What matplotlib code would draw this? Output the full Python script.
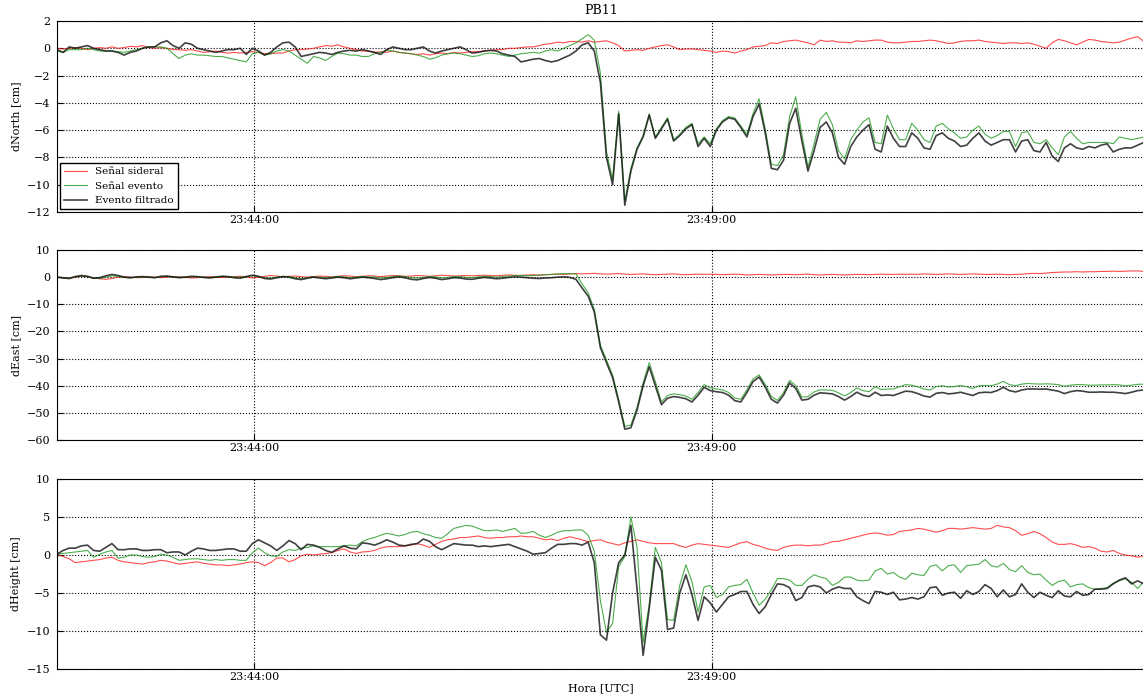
import matplotlib
matplotlib.use("Agg")
import matplotlib.pyplot as plt
import numpy as np
from matplotlib.ticker import FuncFormatter, FixedLocator

# sample grid: 23:41:51 UTC, one value every 4 s
t_start = 23 * 3600 + 41 * 60 + 51
t_step = 4

# dNorth [cm]
N_sid = [0.0, -0.05, 0.0, 0.05, 0.0, -0.1, 0.0, 0.05, 0.0, 0.1,
         0.0, 0.05, 0.15, 0.1, 0.2, 0.05, 0.0, 0.05, 0.0, -0.1,
         -0.1, -0.15, -0.1, -0.2, -0.3, -0.25, -0.2, -0.3, -0.35, -0.3,
         -0.35, -0.3, -0.25, -0.3, -0.4, -0.4, -0.35, -0.35, -0.2, -0.1,
         -0.1, -0.05, 0.0, 0.1, 0.2, 0.15, 0.25, 0.1, 0.0, -0.1,
         -0.2, -0.2, -0.3, -0.25, -0.3, -0.2, -0.3, -0.35, -0.4, -0.45,
         -0.4, -0.5, -0.4, -0.35, -0.4, -0.3, -0.35, -0.3, -0.25, -0.25,
         -0.2, -0.15, -0.1, -0.1, 0.0, 0.0, 0.05, 0.1, 0.1, 0.2,
         0.3, 0.35, 0.45, 0.4, 0.5, 0.5, 0.45, 0.55, 0.45, 0.5,
         0.55, 0.4, 0.2, -0.2, -0.15, -0.1, -0.15, 0.0, 0.1, 0.2,
         0.25, 0.1, -0.1, -0.05, -0.05, -0.1, -0.15, -0.2, -0.3, -0.2,
         -0.25, -0.35, -0.2, -0.1, 0.1, 0.15, 0.2, 0.4, 0.35, 0.5,
         0.55, 0.6, 0.5, 0.4, 0.25, 0.6, 0.5, 0.55, 0.45, 0.45,
         0.4, 0.55, 0.5, 0.55, 0.6, 0.6, 0.45, 0.4, 0.4, 0.45,
         0.5, 0.5, 0.55, 0.6, 0.55, 0.45, 0.35, 0.4, 0.5, 0.55,
         0.55, 0.6, 0.5, 0.45, 0.4, 0.35, 0.4, 0.4, 0.35, 0.4,
         0.3, 0.15, 0.0, 0.4, 0.65, 0.55, 0.4, 0.25, 0.45, 0.65,
         0.6, 0.5, 0.45, 0.4, 0.45, 0.6, 0.75, 0.85, 0.5, 0.35]
N_evt = [-0.2, -0.3, -0.1, -0.1, -0.1, 0.0, -0.1, -0.2, -0.2, -0.2,
         -0.25, -0.3, -0.2, -0.1, 0.0, 0.1, 0.1, 0.1, 0.0, -0.4,
         -0.75, -0.5, -0.4, -0.5, -0.5, -0.55, -0.6, -0.6, -0.7, -0.8,
         -0.9, -1.0, -0.4, -0.3, -0.5, -0.4, -0.2, -0.1, -0.2, -0.5,
         -0.8, -1.1, -0.6, -0.7, -0.9, -0.6, -0.35, -0.4, -0.5, -0.5,
         -0.6, -0.6, -0.4, -0.3, -0.15, -0.2, -0.3, -0.35, -0.4, -0.5,
         -0.6, -0.8, -0.7, -0.5, -0.4, -0.35, -0.4, -0.5, -0.6, -0.55,
         -0.4, -0.35, -0.4, -0.5, -0.6, -0.5, -0.4, -0.35, -0.3, -0.35,
         -0.2, -0.1, -0.2, 0.0, 0.2, 0.4, 0.7, 1.0, 0.6, -1.8,
         -7.6, -9.6, -4.6, -11.2, -8.8, -7.3, -6.4, -4.8, -6.5, -5.8,
         -5.1, -6.7, -6.3, -5.8, -5.5, -7.0, -6.5, -7.0, -5.9, -5.3,
         -5.0, -5.1, -5.7, -6.3, -4.8, -3.7, -5.9, -8.5, -8.6, -7.8,
         -5.0, -3.55, -6.3, -8.7, -7.0, -5.2, -4.7, -5.6, -7.5, -8.1,
         -6.7, -6.0, -5.4, -5.1, -6.9, -7.0, -4.9, -5.9, -6.7, -6.7,
         -5.5, -6.0, -6.7, -6.9, -5.7, -5.5, -5.9, -6.2, -6.6, -6.5,
         -6.0, -5.7, -6.3, -6.6, -6.4, -6.1, -6.1, -7.2, -6.2, -6.1,
         -6.9, -7.0, -6.7, -7.3, -7.8, -6.5, -6.1, -6.6, -7.0, -6.9,
         -6.9, -6.9, -6.9, -7.0, -6.5, -6.6, -6.7, -6.6, -6.5, -6.5]
N_flt = [-0.1, -0.3, 0.1, 0.0, 0.1, 0.2, 0.0, -0.1, -0.2, -0.2,
         -0.3, -0.5, -0.3, -0.2, 0.0, 0.1, 0.1, 0.4, 0.55, 0.2,
         0.0, 0.4, 0.3, 0.0, -0.1, -0.2, -0.3, -0.2, -0.1, -0.1,
         0.0, -0.45, 0.0, -0.2, -0.5, -0.3, 0.1, 0.4, 0.45, 0.1,
         -0.6, -0.5, -0.4, -0.3, -0.35, -0.45, -0.3, -0.2, -0.15, -0.2,
         -0.1, -0.2, -0.3, -0.45, -0.1, 0.1, 0.0, -0.1, -0.1, 0.0,
         0.1, -0.2, -0.35, -0.2, -0.1, 0.0, 0.1, -0.1, -0.35, -0.3,
         -0.2, -0.15, -0.2, -0.4, -0.5, -0.6, -1.0, -0.9, -0.8, -0.75,
         -0.9, -1.0, -0.9, -0.7, -0.5, -0.2, 0.25, 0.4, -0.2, -2.5,
         -8.0, -10.0, -4.8, -11.5, -9.0, -7.4, -6.5, -4.9, -6.6, -5.9,
         -5.2, -6.8, -6.4, -5.9, -5.6, -7.2, -6.6, -7.2, -6.0, -5.4,
         -5.1, -5.2, -5.8, -6.5, -5.0, -4.1, -6.2, -8.8, -8.9, -8.2,
         -5.5, -4.4, -6.8, -9.0, -7.5, -5.8, -5.4, -6.2, -8.0, -8.5,
         -7.2, -6.5, -6.0, -5.6, -7.4, -7.6, -5.7, -6.6, -7.2, -7.2,
         -6.2, -6.6, -7.3, -7.4, -6.4, -6.2, -6.6, -6.8, -7.2, -7.1,
         -6.6, -6.2, -6.8, -7.1, -6.9, -6.7, -6.7, -7.6, -6.8, -6.7,
         -7.5, -7.6, -6.9, -7.9, -8.3, -7.3, -7.0, -7.3, -7.4, -7.2,
         -7.3, -7.1, -7.0, -7.6, -7.4, -7.3, -7.3, -7.1, -6.9, -6.8]

# dEast [cm]
E_sid = [0.0, -0.2, -0.3, 0.0, 0.3, 0.2, -0.3, -0.6, -0.8, -0.5,
         0.0, 0.2, 0.0, -0.2, -0.1, 0.1, 0.0, -0.2, 0.0, 0.2,
         0.1, -0.1, -0.3, -0.2, 0.0, 0.2, 0.1, -0.1, 0.0, 0.2,
         0.3, 0.1, -0.3, -0.1, 0.3, 0.6, 0.4, 0.1, 0.3, 0.4,
         0.2, 0.0, 0.2, 0.4, 0.3, 0.1, 0.3, 0.5, 0.4, 0.2,
         0.3, 0.5, 0.4, 0.2, 0.4, 0.6, 0.5, 0.3, 0.4, 0.6,
         0.5, 0.3, 0.5, 0.7, 0.6, 0.4, 0.5, 0.6, 0.5, 0.6,
         0.7, 0.6, 0.5, 0.7, 0.8, 0.7, 0.6, 0.8, 0.9, 0.8,
         0.9, 1.0, 1.1, 1.0, 1.2, 1.3, 1.2, 1.3, 1.4, 1.2,
         1.1, 1.2, 1.3, 1.1, 1.0, 1.1, 1.2, 1.0, 0.9, 1.0,
         1.1, 1.2, 1.0, 0.9, 1.0, 1.1, 1.0, 1.1, 1.0, 0.9,
         1.0, 1.1, 1.0, 0.8, 0.9, 1.0, 0.9, 0.8, 0.9, 1.0,
         1.0, 0.9, 1.0, 1.1, 0.9, 0.8, 0.9, 1.0, 0.9, 0.8,
         0.9, 1.0, 1.0, 0.9, 1.0, 1.1, 1.0, 1.0, 1.1, 1.0,
         1.1, 1.0, 1.2, 1.1, 1.0, 1.1, 1.2, 1.1, 1.0, 1.1,
         1.2, 1.1, 1.0, 1.0, 1.1, 1.0, 0.9, 1.0, 1.1, 1.3,
         1.4, 1.3, 1.5, 1.7, 1.8, 1.9, 1.9, 2.0, 1.9, 2.0,
         2.0, 2.1, 2.1, 2.2, 2.1, 2.2, 2.3, 2.3, 2.1, 2.0]
E_evt = [0.0, -0.2, -0.4, 0.1, 0.4, 0.2, -0.4, -0.5, 0.0, 0.5,
         0.3, -0.1, -0.3, 0.0, 0.1, 0.0, -0.2, 0.1, 0.3, 0.1,
         -0.1, 0.0, 0.2, 0.1, 0.0, -0.1, 0.1, 0.3, 0.2, 0.0,
         0.0, 0.2, 0.5, 0.2, -0.3, -0.4, 0.0, 0.3, 0.2, -0.2,
         -0.5, -0.2, 0.1, 0.0, -0.2, 0.0, 0.2, 0.1, -0.2, 0.0,
         0.2, 0.1, 0.0, -0.3, -0.1, 0.2, 0.4, 0.2, -0.2, -0.4,
         -0.1, 0.2, 0.1, -0.3, -0.1, 0.2, 0.2, -0.1, -0.2, 0.1,
         0.3, 0.2, 0.0, 0.2, 0.4, 0.6, 0.6, 0.5, 0.6, 0.7,
         0.9, 1.0, 1.2, 1.3, 1.3, 1.2, -2.5, -5.8, -11.8, -25.0,
         -30.5, -36.0, -45.0, -55.0, -54.5, -48.0, -39.0, -31.5, -38.5, -46.0,
         -43.6, -43.0, -43.3, -43.8, -45.0, -42.5, -39.6, -40.8, -41.2, -41.5,
         -42.5, -44.5, -45.0, -41.5, -37.5, -36.0, -39.5, -44.0, -45.4, -42.5,
         -38.0, -40.0, -44.2, -44.0, -42.3, -41.5, -41.6, -41.7, -42.6, -43.8,
         -42.5, -40.8, -41.8, -42.2, -40.4, -41.4, -41.2, -41.2, -40.4, -39.6,
         -39.8, -40.4, -41.2, -41.6, -40.3, -40.0, -40.5, -40.3, -39.9, -40.4,
         -41.0, -40.0, -39.9, -40.0, -39.4, -38.4, -39.6, -40.0, -39.4, -39.2,
         -39.3, -39.4, -39.3, -39.4, -39.6, -40.2, -39.8, -39.6, -39.6, -39.8,
         -39.8, -39.7, -39.7, -39.6, -39.7, -40.0, -39.8, -39.5, -39.4, -39.4]
E_flt = [0.0, -0.3, -0.5, 0.2, 0.6, 0.3, -0.4, -0.2, 0.5, 1.0,
         0.6, 0.0, -0.2, 0.1, 0.2, 0.0, -0.2, 0.3, 0.4, 0.1,
         -0.2, 0.0, 0.3, 0.2, -0.1, -0.3, 0.0, 0.3, 0.2, -0.2,
         -0.4, 0.2, 0.7, 0.3, -0.5, -0.7, -0.2, 0.2, 0.0, -0.6,
         -0.9, -0.4, 0.0, -0.3, -0.6, -0.3, 0.0, -0.2, -0.6, -0.3,
         0.0, -0.2, -0.5, -0.9, -0.6, -0.2, 0.1, -0.2, -0.8, -1.0,
         -0.5, -0.1, -0.4, -0.9, -0.6, -0.2, -0.3, -0.7, -0.8, -0.4,
         -0.1, -0.3, -0.6, -0.4, -0.1, 0.1, 0.0, -0.2, -0.4, -0.5,
         -0.3, -0.2, 0.0, 0.1, -0.1, -0.8, -4.0, -7.0, -12.8, -26.0,
         -31.5, -37.0, -46.0, -56.0, -55.5, -49.0, -40.0, -33.0, -40.0, -47.0,
         -44.6, -44.0, -44.3, -44.8, -46.0, -43.5, -40.6, -41.8, -42.2, -42.5,
         -43.5, -45.5, -46.0, -42.5, -38.5, -36.8, -40.5, -45.0, -46.4, -43.5,
         -39.0, -41.0, -45.3, -45.0, -43.5, -42.6, -42.8, -43.0, -44.0, -45.3,
         -44.0, -42.4, -43.5, -44.0, -42.4, -43.6, -43.4, -43.6, -42.8, -42.0,
         -42.2, -42.9, -43.8, -44.2, -42.8, -42.5, -43.0, -42.8, -42.4, -43.0,
         -43.6, -42.6, -42.4, -42.5, -41.8, -40.6, -41.8, -42.3, -41.6, -41.2,
         -41.2, -41.3, -41.2, -41.6, -42.0, -42.9, -42.2, -41.8, -42.0, -42.4,
         -42.4, -42.3, -42.4, -42.4, -42.6, -42.9, -42.4, -41.8, -41.6, -41.5]

# dHeight [cm]
H_sid = [0.1, -0.2, -0.5, -1.0, -0.9, -0.8, -0.7, -0.6, -0.4, -0.3,
         -0.7, -0.9, -1.0, -1.1, -1.2, -1.0, -0.9, -0.7, -0.8, -1.0,
         -1.2, -1.1, -1.0, -0.9, -1.1, -1.2, -1.3, -1.3, -1.4, -1.3,
         -1.2, -1.0, -0.9, -1.0, -1.4, -1.0, -0.4, -0.4, -0.9, -0.6,
         -0.1, 0.1, 0.0, 0.1, 0.2, 0.3, 0.6, 0.8, 0.4, 0.2,
         0.4, 0.45, 0.6, 0.9, 1.1, 1.1, 1.1, 1.2, 1.3, 1.5,
         1.3, 1.0, 1.4, 1.8, 2.0, 2.1, 2.3, 2.3, 2.4, 2.5,
         2.3, 2.2, 2.3, 2.3, 2.4, 2.4, 2.5, 2.4, 2.4, 2.2,
         2.0, 2.1, 1.9, 2.2, 2.4, 2.2, 2.0, 1.75, 1.9, 2.0,
         1.7, 1.5, 1.3, 1.6, 1.8, 2.0, 1.8, 1.6, 1.5, 1.5,
         1.5, 1.5, 1.2, 1.0, 1.3, 1.5, 1.4, 1.3, 1.2, 1.1,
         1.0, 1.3, 1.6, 1.75, 1.4, 1.2, 0.9, 0.7, 0.6, 1.0,
         1.2, 1.3, 1.3, 1.2, 1.3, 1.3, 1.5, 1.75, 1.8, 2.0,
         2.2, 2.4, 2.6, 2.8, 2.9, 2.8, 2.6, 2.7, 3.1, 3.2,
         3.3, 3.5, 3.4, 3.2, 3.0, 3.2, 3.5, 3.5, 3.4, 3.5,
         3.6, 3.5, 3.4, 3.5, 3.9, 3.7, 3.6, 3.2, 2.6, 2.8,
         3.1, 2.8, 2.3, 1.7, 1.4, 1.4, 1.5, 1.3, 1.0, 1.1,
         0.9, 0.5, 0.4, 0.6, 0.2, 0.0, -0.1, -0.3, -0.1, 0.2]
H_evt = [0.1, 0.2, 0.3, 0.4, 0.5, 0.6, -0.3, 0.1, 0.4, 0.6,
         -0.4, -0.3, 0.0, 0.0, -0.2, -0.3, -0.2, 0.1, 0.0, -0.3,
         -0.7, -0.6, -0.5, -0.5, -0.6, -0.7, -0.6, -0.7, -0.6, -0.6,
         -0.7, -0.7, 0.3, 0.9, 0.3, -0.1, -0.2, 0.4, 0.7, 0.6,
         0.9, 1.0, 1.2, 1.1, 1.1, 1.1, 1.1, 1.2, 1.3, 1.2,
         1.75, 2.1, 2.3, 2.6, 2.85, 2.7, 2.5, 2.7, 3.0, 3.1,
         2.8, 2.6, 2.3, 2.2, 2.8, 3.5, 3.7, 3.9, 3.8, 3.5,
         3.2, 3.2, 3.3, 3.1, 3.3, 3.5, 2.85, 2.9, 3.1, 2.6,
         2.3, 2.6, 3.0, 3.2, 3.2, 3.3, 3.3, 2.6, 0.5, -6.0,
         -10.2, -9.0, -1.5, -0.2, 5.0, 1.0, -11.5, -6.5, 1.0, -1.0,
         -8.5, -8.6, -4.0, -1.3, -3.5, -7.5, -4.2, -4.0, -5.6, -5.2,
         -4.2, -4.0, -3.9, -3.2, -5.0, -6.6, -5.8, -4.6, -3.1, -3.1,
         -3.3, -4.0, -4.0, -3.2, -2.6, -2.9, -3.1, -4.0, -3.6, -2.9,
         -2.9, -3.3, -3.4, -3.3, -2.1, -1.75, -2.5, -2.3, -2.9, -3.2,
         -2.4, -2.6, -2.7, -1.5, -1.3, -2.1, -1.4, -1.3, -2.3, -1.4,
         -1.3, -1.2, -0.6, -1.4, -1.6, -1.1, -1.9, -2.2, -1.4, -2.3,
         -2.6, -2.5, -3.3, -4.0, -3.5, -3.3, -4.2, -3.9, -3.8, -4.3,
         -4.5, -4.4, -4.3, -3.7, -3.4, -3.1, -3.6, -4.4, -3.5, -3.7]
H_flt = [0.1, 0.6, 0.9, 0.9, 1.2, 1.3, 0.6, 0.5, 1.0, 1.5,
         0.7, 0.7, 0.8, 0.8, 0.6, 0.6, 0.7, 0.7, 0.3, 0.4,
         0.4, 0.0, 0.5, 0.9, 0.8, 0.6, 0.6, 0.7, 0.8, 0.8,
         0.5, 0.5, 1.5, 2.0, 1.6, 1.2, 0.6, 1.2, 1.9, 1.5,
         0.7, 1.4, 1.3, 1.0, 0.6, 0.35, 0.8, 1.2, 0.9, 0.8,
         1.6, 1.5, 1.3, 1.6, 2.0, 1.7, 1.3, 1.2, 1.4, 1.5,
         2.1, 1.8, 1.1, 0.7, 1.1, 1.5, 1.4, 1.3, 1.3, 1.1,
         1.2, 1.1, 1.2, 1.3, 1.4, 1.1, 0.8, 0.5, 0.1, 0.2,
         0.3, 0.9, 1.4, 1.4, 1.5, 1.5, 1.3, 1.7, -1.0, -10.5,
         -11.2, -5.0, -1.0, 0.0, 3.9, -4.5, -13.2, -7.0, -0.3, -2.0,
         -9.8, -9.6, -5.0, -2.6, -5.2, -8.6, -5.5, -6.3, -7.5, -6.5,
         -5.5, -5.2, -4.8, -4.8, -6.5, -7.7, -6.8, -5.2, -3.8, -3.9,
         -4.3, -6.0, -5.6, -4.2, -4.0, -4.2, -5.0, -4.5, -4.2, -4.4,
         -4.4, -5.5, -6.0, -6.4, -4.8, -4.9, -5.2, -4.9, -5.9, -5.8,
         -5.6, -5.8, -5.5, -4.3, -4.2, -5.3, -5.0, -4.9, -5.7, -4.7,
         -5.2, -4.8, -3.9, -4.4, -5.5, -4.6, -5.5, -5.2, -3.8, -4.9,
         -5.6, -4.9, -5.3, -5.6, -4.7, -5.4, -5.5, -4.8, -5.3, -5.2,
         -4.5, -4.5, -4.4, -3.8, -3.3, -3.0, -3.8, -3.4, -3.8, -4.0]

panels = [
    ("dNorth [cm]", N_sid, N_evt, N_flt, (-12, 2), np.arange(-12, 3, 2)),
    ("dEast [cm]", E_sid, E_evt, E_flt, (-60, 10), np.arange(-60, 11, 10)),
    ("dHeight [cm]", H_sid, H_evt, H_flt, (-15, 10), np.arange(-15, 11, 5)),
]

x_ticks = [23 * 3600 + 44 * 60, 23 * 3600 + 49 * 60]
x_lim = (t_start, t_start + 713)


def hms(v, pos=None):
    v = int(round(v))
    return "%02d:%02d:%02d" % (v // 3600, (v % 3600) // 60, v % 60)


plt.rcParams['font.family'] = ['DejaVu Serif']
plt.rcParams['axes.unicode_minus'] = True

fig = plt.figure(figsize=(11.43, 6.98), dpi=100)
W, H = 1143.0, 698.0
boxes = [(21, 212), (250, 440), (479, 669)]

t = t_start + t_step * np.arange(len(N_sid))

axes = []
for (ylab, sid, evt, flt, ylim, yt), (top, bot) in zip(panels, boxes):
    ax = fig.add_axes([57 / W, 1 - bot / H, 1.002 - 57 / W, (bot - top) / H])
    ax.plot(t, sid, color='#ff2020', lw=0.8, alpha=0.8, label='Señal sideral')
    ax.plot(t, evt, color='#1e9a1e', lw=0.8, alpha=0.8, label='Señal evento')
    ax.plot(t, flt, color='#111111', lw=1.2, alpha=0.8, label='Evento filtrado')
    ax.set_xlim(*x_lim)
    ax.set_ylim(*ylim)
    ax.set_yticks(yt)
    ax.xaxis.set_major_locator(FixedLocator(x_ticks))
    ax.xaxis.set_major_formatter(FuncFormatter(hms))
    ax.grid(True, color='black', linestyle=':', linewidth=0.8)
    ax.tick_params(axis='y', direction='in', length=4, labelsize=8, pad=5)
    ax.tick_params(axis='x', direction='in', length=4, labelsize=8, pad=2)
    ax.set_ylabel(ylab, fontsize=8, labelpad=4)
    axes.append(ax)

axes[0].set_title('PB11', fontsize=9, pad=5)
leg = axes[0].legend(loc='lower left', fontsize=7.5, borderaxespad=0.25,
                     fancybox=False, handlelength=2.2, framealpha=1)
leg.get_frame().set_edgecolor('black')
axes[2].set_xlabel('Hora [UTC]', fontsize=8, labelpad=1)

fig.savefig('out.png', dpi=100)
